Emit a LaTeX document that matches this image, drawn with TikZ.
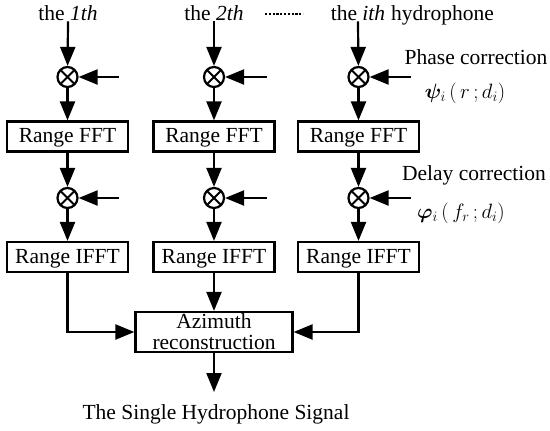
\documentclass[tikz,border=0pt]{standalone}
\usepackage{bm}
\usepackage{fontspec}
\setmainfont{Liberation Serif}
\usetikzlibrary{arrows.meta}
\begin{document}
\begin{tikzpicture}[x=1pt,y=-1pt,
  every node/.style={font=\fontsize{21.5}{22}\selectfont},
  procbox/.style={draw,line width=2.2pt,minimum width=121pt,minimum height=30pt,inner sep=0pt,
    text height=16pt,text depth=4pt},
  mult/.style={circle,draw,line width=2.2pt,minimum size=20pt,inner sep=0pt,
    path picture={\draw[line width=1.8pt] (path picture bounding box.north west) -- (path picture bounding box.south east)
      (path picture bounding box.north east) -- (path picture bounding box.south west);}},
  arr/.style={line width=2.2pt,-{Triangle[length=19pt,width=15pt]}},
  lbl/.style={inner sep=1pt}]
\useasboundingbox (0,0) rectangle (550,431);

% column headers
\node[lbl,anchor=base] (t1) at (68,20) {the \textit{1th}};
\node[lbl,anchor=base] (t2) at (214,20) {the \textit{2th}};
\node[lbl,anchor=base] (t3) at (358,20) {the \textit{ith}};
\node[lbl,anchor=base west] (hyd) at (390,20) {hydrophone};
\draw[line width=1.4pt,dash pattern=on 2.2pt off 1.6pt] (265,14) -- (303,14);

% multipliers row 1
\node[mult] (m1) at (67.5,77) {};
\node[mult] (m2) at (214,77) {};
\node[mult] (m3) at (358.5,77) {};
% FFT boxes
\node[procbox] (f1) at (67.5,136.5) {Range FFT};
\node[procbox] (f2) at (214,136.5) {Range FFT};
\node[procbox] (f3) at (358.5,136.5) {Range FFT};
% multipliers row 2
\node[mult] (n1) at (67.5,198) {};
\node[mult] (n2) at (214,198) {};
\node[mult] (n3) at (358.5,198) {};
% IFFT boxes
\node[procbox] (g1) at (67.5,257) {Range IFFT};
\node[procbox] (g2) at (214,257) {Range IFFT};
\node[procbox] (g3) at (358.5,257) {Range IFFT};
% azimuth
\node[draw,line width=2.2pt,minimum width=157pt,minimum height=40pt,inner sep=0pt,align=center,
  font=\fontsize{21.5}{21}\selectfont] (az) at (214,332) {Azimuth\\reconstruction};
\coordinate (outtip) at (214,392);
\node[lbl,anchor=base] (out) at (216,419) {The Single Hydrophone Signal};

% right-side labels
\node[lbl] (pc) at (476,57) {Phase correction};
\node[lbl] (psi) at (465,93) {$\bm{\psi}_{i}\left(\,r\,;d_{i}\right)$};
\node[lbl] (dc) at (474,175) {Delay correction};
\node[lbl] (phi) at (461,213) {$\bm{\varphi}_{i}\left(\,f_{r}\,;d_{i}\right)$};

% free ends of side inputs
\coordinate (s1) at (119,77);
\coordinate (s2) at (267,77);
\coordinate (s3) at (411,77);
\coordinate (r1) at (119,198);
\coordinate (r2) at (267,198);
\coordinate (r3) at (411,198);

% vertical flow
\foreach \t/\m/\f/\n/\g in {t1/m1/f1/n1/g1,t2/m2/f2/n2/g2,t3/m3/f3/n3/g3}{
  \draw[arr] (\t.south) -- (\m);
  \draw[arr] (\m) -- (\f);
  \draw[arr] (\f) -- (\n);
  \draw[arr] (\n) -- (\g);
}
\foreach \s/\m in {s1/m1,s2/m2,s3/m3,r1/n1,r2/n2,r3/n3}{
  \draw[arr] (\s) -- (\m);
}
\draw[arr] (g1.south) |- (az.west);
\draw[arr] (g2.south) -- (az.north);
\draw[arr] (g3.south) |- (az.east);
\draw[arr] (az.south) -- (outtip);
\end{tikzpicture}
\end{document}
